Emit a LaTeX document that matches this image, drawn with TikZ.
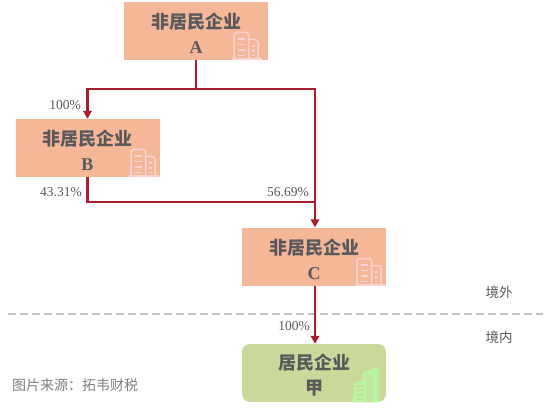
\documentclass[tikz,border=0pt]{standalone}
\usepackage{fontspec}
\setmainfont{Liberation Serif}
\newfontfamily\cjk{Noto Sans CJK SC}
\usetikzlibrary{arrows.meta,calc}
\definecolor{boxo}{HTML}{F4B899}
\definecolor{boxg}{HTML}{C9D99C}
\definecolor{txt}{HTML}{595959}
\definecolor{lnk}{HTML}{A81E2C}
\definecolor{icop}{HTML}{FBD3D3}
\definecolor{icog}{HTML}{B9F5A0}
\newcommand{\ent}[2]{\rule{0pt}{20.5pt}{\cjk #1}\\#2}
\tikzset{
 entity/.style={minimum width=144pt,minimum height=58pt,inner sep=0pt,fill=boxo,text=txt,align=center,font=\fontsize{18}{25}\selectfont\bfseries},
 resident/.style={entity,fill=boxg,rounded corners=8pt},
 link/.style={draw=lnk,line width=2.3pt},
 arrowlink/.style={link,-{Triangle[length=8pt,width=8.5pt]}},
 pct/.style={text=txt,font=\fontsize{13.5}{15}\selectfont,inner sep=0pt},
 area/.style={text=txt,font=\cjk\fontsize{13.5}{15}\selectfont,inner sep=0pt},
 icon/.style={draw=icop,line width=1.5pt,line join=round},
 iconline/.style={draw=icop,line width=1.3pt},
 pics/bldg/.style={code={
  \draw[icon] (-15,0) -- (15,0);
  \draw[icon] (-12.5,0) -- (-12.5,-24) .. controls (-12.5,-26) and (-11,-26.5) .. (-9,-26.5) -- (-1,-26.5) .. controls (1,-26.5) and (2,-26) .. (2,-24) -- (2,0);
  \draw[icon] (2,-19.5) -- (8,-19.5) .. controls (10,-19.5) and (11.5,-18.5) .. (11.5,-16.5) -- (11.5,0);
  \foreach \yy in {-20,-14.5,-9,-3.5} \draw[iconline] (-9,\yy) -- (-2,\yy);
  \foreach \yy in {-13,-8,-3.5} \draw[iconline] (5.5,\yy) -- (8.5,\yy);
 }}
}
\begin{document}
\begin{tikzpicture}[x=1pt,y=-1pt]
\useasboundingbox (0,0) rectangle (547,412);
\node[entity] (a) at (196,31) {\ent{非居民企业}{A}};
\node[entity] (b) at (87.5,148) {\ent{非居民企业}{B}};
\node[entity] (c) at (314,256.5) {\ent{非居民企业}{C}};
\node[resident] (d) at (314,373) {\ent{居民企业}{\cjk 甲}};
\pic at (246.5,59) {bldg};
\pic at (143.5,176) {bldg};
\pic at (369.5,285) {bldg};
% green building
\begin{scope}[shift={(352,402)}]
 \fill[icog] (1,0) -- (2,-19) -- (11,-22) -- (11,-30) -- (27,-35) -- (27,0) -- cycle;
 \foreach \yy in {-15.5,-11,-6.5,-2.5} \draw[boxg,line width=1.2pt] (4,\yy) -- (12,\yy-1);
 \fill[boxg!55!icog] (14,-25) -- (21,-28) -- (21,0) -- (14,0) -- cycle;
 \foreach \yy in {-18,-12,-6} \draw[icog,line width=1pt] (14,\yy) -- (21,\yy-1);
\end{scope}
\coordinate (j) at ($(a.south)+(0,29)$);
\draw[link] (a.south) -- (j);
\draw[arrowlink] (j) -| (b.north);
\draw[arrowlink] (j) -| ($(c.north)+(1,0)$);
\draw[link] (b.south) |- ($(c.north)+(1,-25)$);
\draw[draw=black!24,line width=2.3pt,dash pattern=on 8pt off 4pt] (8,314) -- (543,314);
\draw[arrowlink] ($(c.south)+(1,0)$) -- ($(d.north)+(1,0)$);
\node[pct] (p1) at (65,105.5) {100\%};
\node[pct] (p2) at (61,192) {43.31\%};
\node[pct] (p3) at (288,192) {56.69\%};
\node[pct] (p4) at (294,326) {100\%};
\node[area] (o) at (499,292) {境外};
\node[area] (i) at (499,337) {境内};
\node[area,anchor=west,text=black!50,font=\cjk\fontsize{14}{16}\selectfont] (src) at (12,385) {图片来源：拓韦财税};
\end{tikzpicture}
\end{document}
